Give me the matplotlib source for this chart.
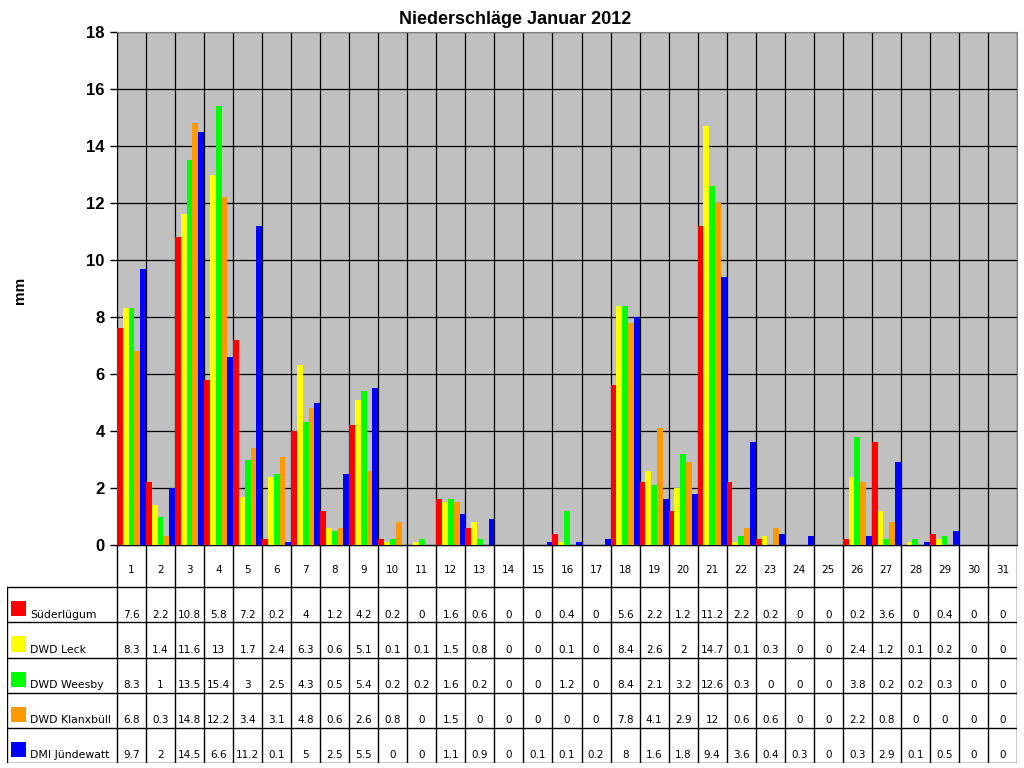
import numpy as np
import matplotlib.pyplot as plt
from matplotlib.patches import Rectangle

plt.rcParams['font.family'] = ['Liberation Sans', 'DejaVu Sans']

# daily precipitation (mm), January 2012
days = list(range(1, 32))
stations = ["Süderlügum", "DWD Leck", "DWD Weesby", "DWD Klanxbüll", "DMI Jündewatt"]
colors = ["#FF0000", "#FFFF00", "#00FF00", "#FF9900", "#0000FF"]

suederluegum = [7.6, 2.2, 10.8, 5.8, 7.2, 0.2, 4, 1.2, 4.2, 0.2, 0, 1.6, 0.6, 0, 0, 0.4,
                0, 5.6, 2.2, 1.2, 11.2, 2.2, 0.2, 0, 0, 0.2, 3.6, 0, 0.4, 0, 0]
leck = [8.3, 1.4, 11.6, 13, 1.7, 2.4, 6.3, 0.6, 5.1, 0.1, 0.1, 1.5, 0.8, 0, 0, 0.1,
        0, 8.4, 2.6, 2, 14.7, 0.1, 0.3, 0, 0, 2.4, 1.2, 0.1, 0.2, 0, 0]
weesby = [8.3, 1, 13.5, 15.4, 3, 2.5, 4.3, 0.5, 5.4, 0.2, 0.2, 1.6, 0.2, 0, 0, 1.2,
          0, 8.4, 2.1, 3.2, 12.6, 0.3, 0, 0, 0, 3.8, 0.2, 0.2, 0.3, 0, 0]
klanxbuell = [6.8, 0.3, 14.8, 12.2, 3.4, 3.1, 4.8, 0.6, 2.6, 0.8, 0, 1.5, 0, 0, 0, 0,
              0, 7.8, 4.1, 2.9, 12, 0.6, 0.6, 0, 0, 2.2, 0.8, 0, 0, 0, 0]
juendewatt = [9.7, 2, 14.5, 6.6, 11.2, 0.1, 5, 2.5, 5.5, 0, 0, 1.1, 0.9, 0, 0.1, 0.1,
              0.2, 8, 1.6, 1.8, 9.4, 3.6, 0.4, 0.3, 0, 0.3, 2.9, 0.1, 0.5, 0, 0]
series = [suederluegum, leck, weesby, klanxbuell, juendewatt]

W, H = 1024, 768
fig = plt.figure(figsize=(W / 100, H / 100), dpi=100)

# --- bar chart ---
ax = fig.add_axes([117 / W, 1 - 545 / H, 900 / W, 513 / H])
ax.set_facecolor("#C0C0C0")
x = np.arange(len(days))
bw = 0.2
for i, (vals, c) in enumerate(zip(series, colors)):
    ax.bar(x + (i - 2) * bw, vals, width=bw, color=c, linewidth=0, zorder=3)

ax.set_xlim(-0.5, len(days) - 0.5)
ax.set_ylim(0, 18)
ax.set_yticks(np.arange(0, 19, 2))
ax.set_xticks([])
ax.set_xticks(np.arange(-0.5, len(days), 1), minor=True)
ax.tick_params(axis="x", which="both", length=0, labelbottom=False)
ax.tick_params(axis="y", length=5, width=1, direction="out", labelsize=12, pad=4)
for lab in ax.get_yticklabels():
    lab.set_fontweight("bold")
ax.grid(axis="y", which="major", color="black", linewidth=0.9, zorder=1)
ax.grid(axis="x", which="minor", color="black", linewidth=0.9, zorder=1)
ax.set_axisbelow(True)
for s in ax.spines.values():
    s.set_color("#808080")
ax.spines["bottom"].set_color("black")
ax.spines["left"].set_color("black")

fig.text(515 / W, 1 - 20 / H, "Niederschläge Januar 2012", ha="center", va="center",
         fontsize=13, fontweight="bold")
fig.text(20 / W, 1 - 290 / H, "mm", ha="center", va="center", rotation=90,
         fontsize=11, fontweight="bold")

# --- data table ---
cell_px = 900 / len(days)
lab_w = 110 / cell_px
hdr = 1.2
nrows = len(series)
tab = fig.add_axes([7 / W, 1 - 763 / H, 1010 / W, 218 / H])
x0 = -0.5 - lab_w
x1 = len(days) - 0.5
tab.set_xlim(x0, x1)
tab.set_ylim(hdr + nrows, 0)
tab.axis("off")

lw = 1.0
tab.plot([-0.5, x1], [0, 0], color="black", lw=lw)
for r in range(nrows + 1):
    tab.plot([x0, x1], [hdr + r, hdr + r], color="black", lw=lw)
for k in range(len(days) + 1):
    tab.plot([k - 0.5, k - 0.5], [0, hdr + nrows], color="black", lw=lw)
tab.plot([x0, x0], [hdr, hdr + nrows], color="black", lw=lw)

tfont = "DejaVu Sans"
for k, d in enumerate(days):
    tab.text(k, hdr / 2 + 0.1, str(d), ha="center", va="center", fontsize=7.5,
             family=tfont)

for r, (name, vals, c) in enumerate(zip(stations, series, colors)):
    yb = hdr + r
    tab.add_patch(Rectangle((x0 + 0.14, yb + 0.4), 15 / cell_px, 0.43,
                            facecolor=c, edgecolor="none"))
    tab.text(x0 + 0.8, yb + 0.78, name, ha="left", va="center", fontsize=7.8,
             family=tfont)
    for k, v in enumerate(vals):
        tab.text(k, yb + 0.78, f"{v:g}", ha="center", va="center", fontsize=7.5,
                 family=tfont)

fig.savefig("out.png", dpi=100)
